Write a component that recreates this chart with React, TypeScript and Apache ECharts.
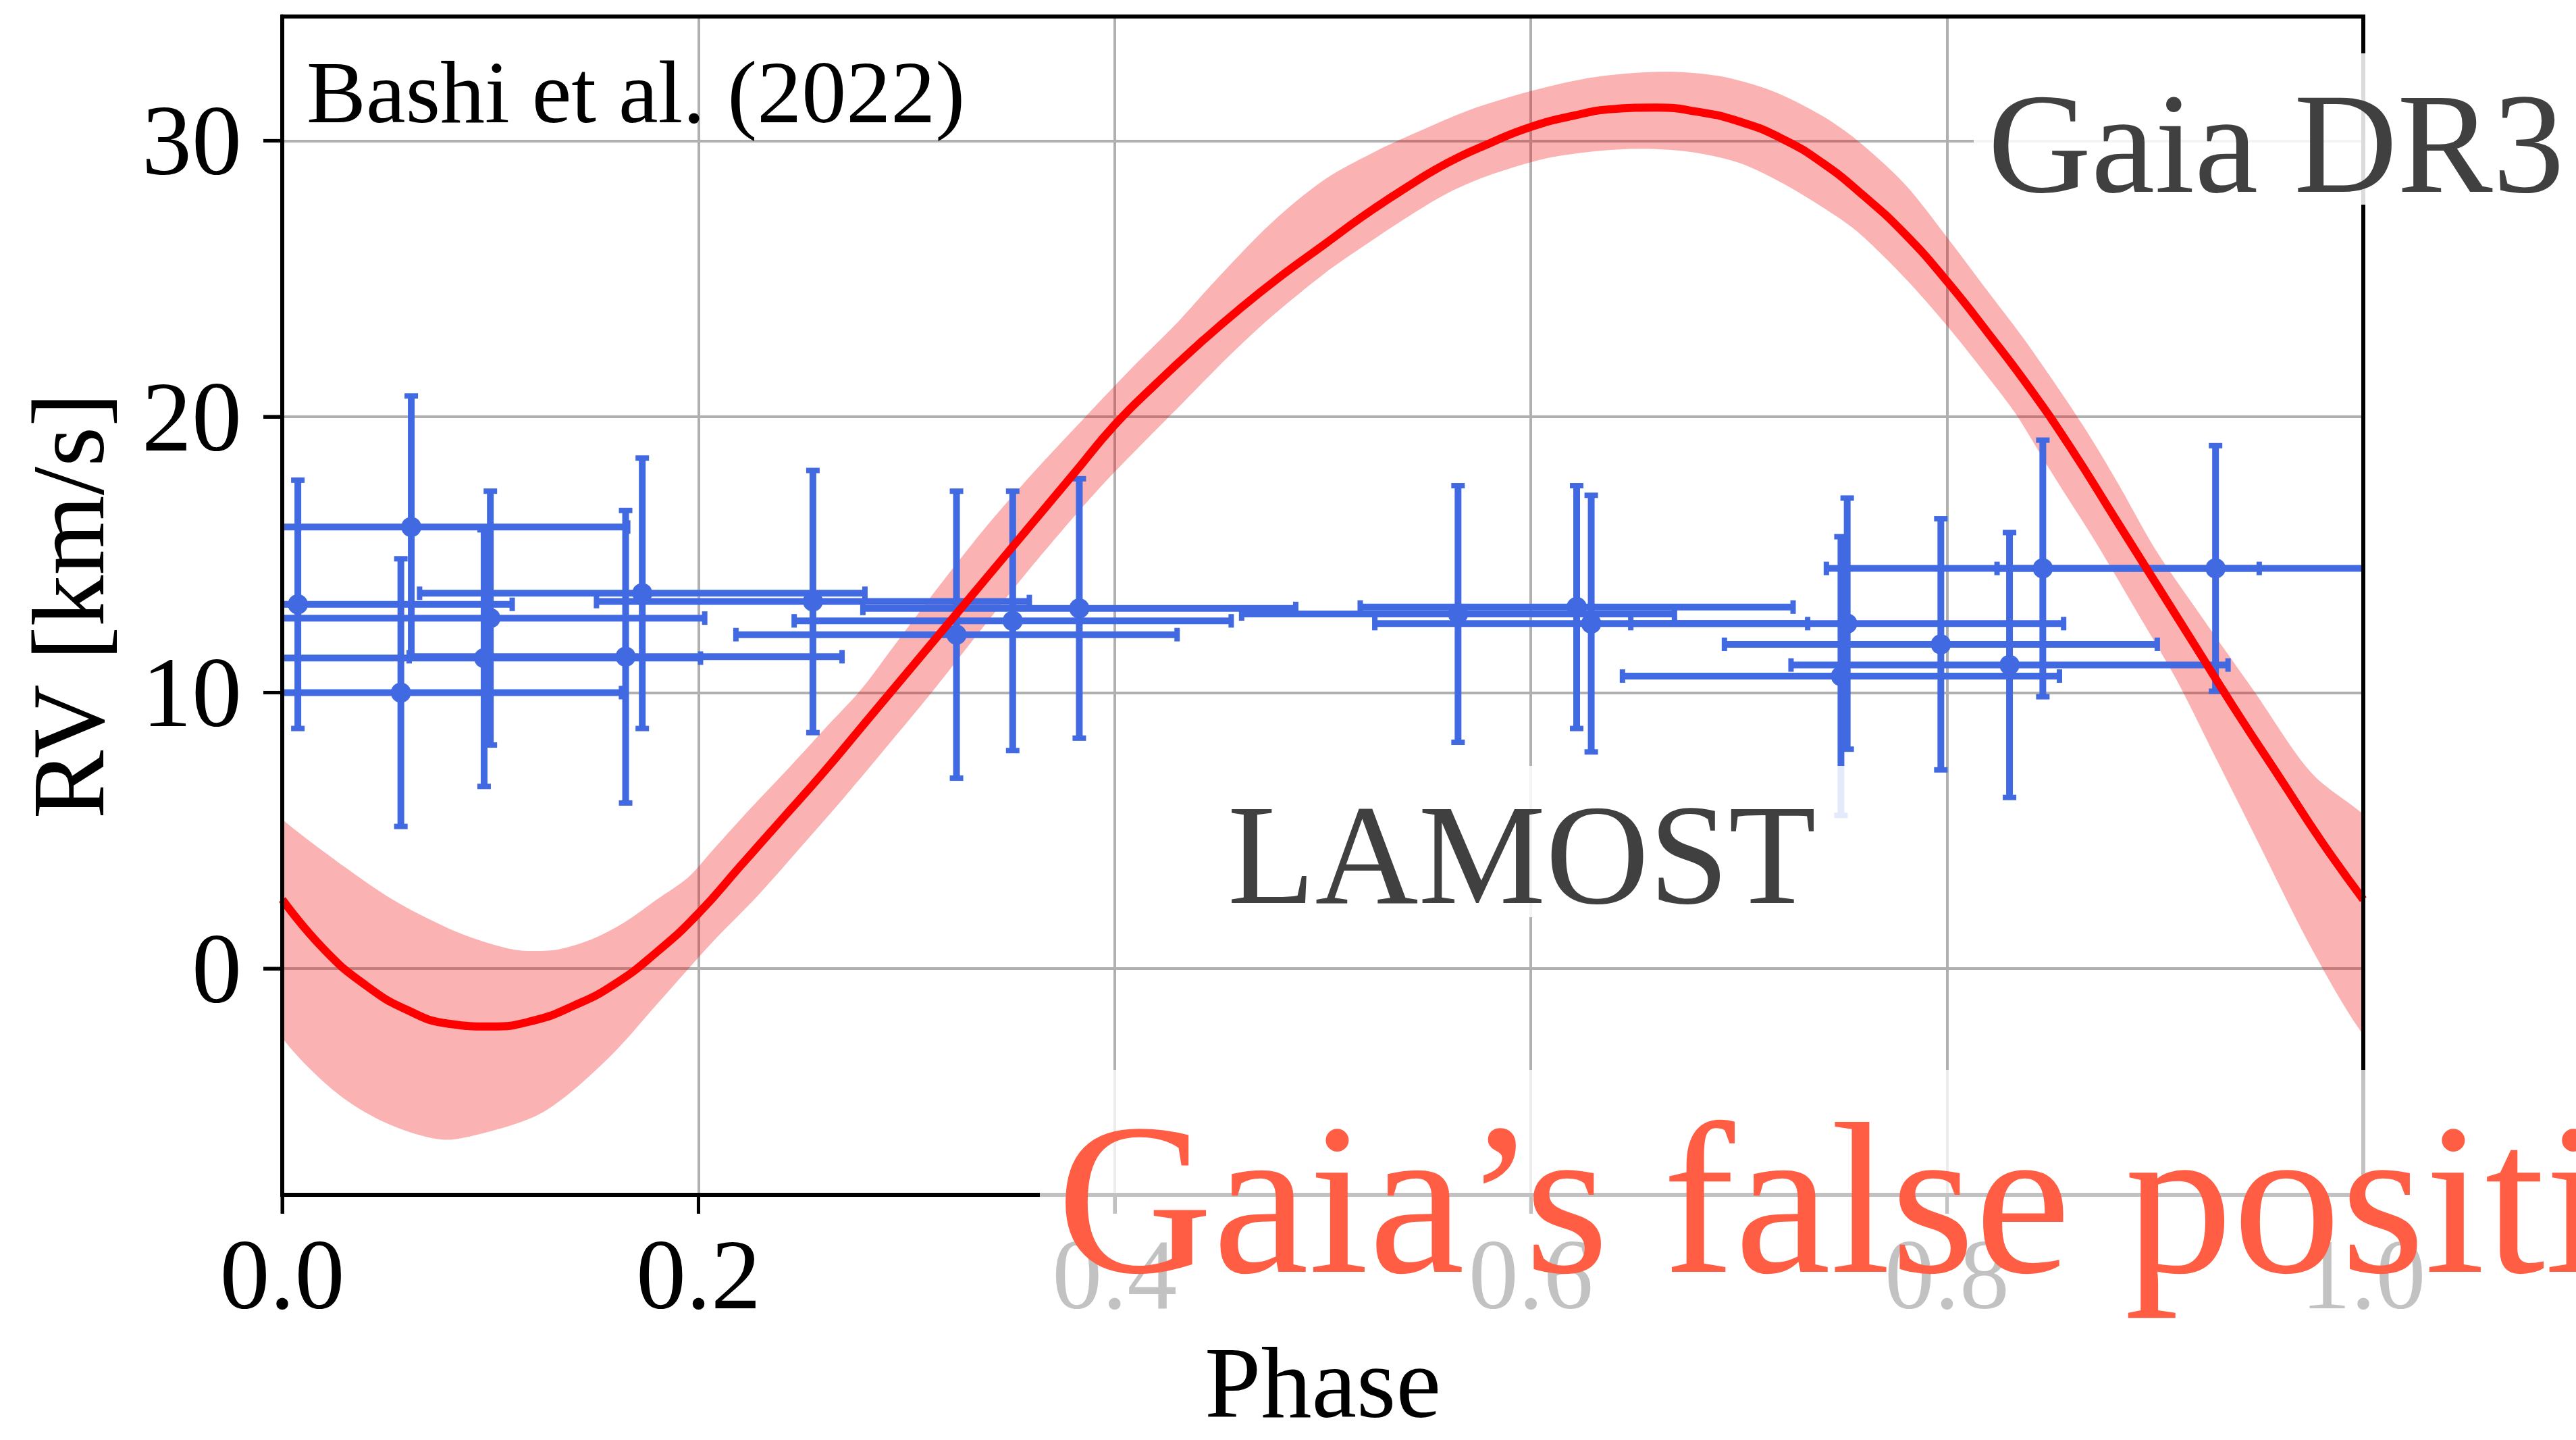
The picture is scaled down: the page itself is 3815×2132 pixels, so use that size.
import React, { useEffect, useRef } from 'react';
import * as echarts from 'echarts';

// Orbit solution (Gaia DR3) – radial-velocity curve
const curvePhase = [0, 0.02, 0.04, 0.06, 0.08, 0.1, 0.12, 0.14, 0.16, 0.18, 0.2, 0.22, 0.24, 0.26, 0.28, 0.3, 0.32, 0.34, 0.36, 0.38, 0.4, 0.42, 0.44, 0.46, 0.48, 0.5, 0.52, 0.54, 0.56, 0.58, 0.6, 0.62, 0.64, 0.66, 0.68, 0.7, 0.72, 0.74, 0.76, 0.78, 0.8, 0.82, 0.84, 0.86, 0.88, 0.9, 0.92, 0.94, 0.96, 0.98, 1.0];
const curveRV = [2.5, 0.7, -0.6, -1.5, -2.0, -2.1, -1.9, -1.35, -0.55, 0.6, 2.0, 3.7, 5.4, 7.1, 8.9, 10.7, 12.5, 14.3, 16.1, 17.9, 19.7, 21.2, 22.6, 23.9, 25.1, 26.2, 27.3, 28.3, 29.2, 29.9, 30.5, 30.9, 31.15, 31.2, 31.05, 30.7, 30.1, 29.2, 28.0, 26.6, 24.9, 23.0, 21.0, 18.8, 16.4, 14.0, 11.6, 9.2, 6.9, 4.6, 2.5];

// Uncertainty band – upper edge (phase is periodic, so it is read a little past both ends)
const upperPhase = [-0.025, 0, 0.026, 0.053, 0.08, 0.1, 0.115, 0.133, 0.15, 0.165, 0.18, 0.195, 0.207, 0.225, 0.245, 0.262, 0.278, 0.295, 0.315, 0.337, 0.36, 0.386, 0.41, 0.43, 0.448, 0.475, 0.501, 0.525, 0.545, 0.57, 0.6, 0.63, 0.663, 0.69, 0.716, 0.74, 0.757, 0.78, 0.801, 0.82, 0.839, 0.866, 0.882, 0.9, 0.92, 0.948, 0.975, 1.0, 1.026];
const upperRV = [7.1, 5.4, 3.9, 2.5, 1.45, 0.9, 0.65, 0.7, 1.1, 1.7, 2.5, 3.3, 4.3, 5.8, 7.4, 8.8, 10.1, 11.8, 13.8, 15.9, 17.9, 20.0, 21.9, 23.4, 24.9, 27.0, 28.6, 29.6, 30.3, 31.1, 31.8, 32.3, 32.5, 32.35, 31.8, 30.9, 30.0, 28.4, 26.4, 24.5, 22.6, 19.6, 17.6, 15.2, 13.0, 10.0, 7.1, 5.6, 3.9];

// Uncertainty band – lower edge
const lowerPhase = [-0.025, 0, 0.026, 0.05, 0.077, 0.1, 0.123, 0.14, 0.16, 0.18, 0.206, 0.228, 0.248, 0.27, 0.29, 0.312, 0.335, 0.355, 0.375, 0.395, 0.413, 0.434, 0.455, 0.475, 0.501, 0.52, 0.54, 0.56, 0.582, 0.61, 0.647, 0.676, 0.7, 0.72, 0.74, 0.757, 0.78, 0.801, 0.82, 0.833, 0.85, 0.871, 0.893, 0.91, 0.93, 0.948, 0.975, 1.0, 1.026];
const lowerRV = [0.75, -2.5, -4.5, -5.6, -6.2, -5.9, -5.3, -4.4, -3.0, -1.3, 0.9, 2.6, 4.3, 6.2, 8.0, 10.0, 12.2, 14.1, 15.9, 17.6, 19.0, 20.6, 22.2, 23.6, 25.2, 26.2, 27.2, 28.1, 28.8, 29.4, 29.7, 29.6, 29.2, 28.5, 27.6, 26.7, 25.0, 23.2, 21.4, 20.1, 18.0, 15.5, 12.7, 10.5, 7.5, 4.8, 0.75, -2.4, -4.5];

// LAMOST measurements
const lamostPhase = [0.0075, 0.062, 0.057, 0.1, 0.097, 0.165, 0.173, 0.255, 0.324, 0.351, 0.383, 0.565, 0.622, 0.629, 0.749, 0.752, 0.797, 0.83, 0.846, 0.929];
const lamostRV = [13.2, 16.0, 10.0, 12.7, 11.25, 11.3, 13.6, 13.3, 12.1, 12.6, 13.05, 12.85, 13.1, 12.5, 10.6, 12.5, 11.75, 11.0, 14.5, 14.5];
const lamostPhaseErr = [0.103, 0.104, 0.106, 0.103, 0.104, 0.104, 0.107, 0.104, 0.106, 0.105, 0.104, 0.104, 0.104, 0.104, 0.105, 0.104, 0.104, 0.105, 0.104, 0.105];
const lamostRVErr = [4.5, 4.75, 4.85, 4.6, 4.65, 5.3, 4.9, 4.75, 5.2, 4.7, 4.7, 4.65, 4.4, 4.65, 5.05, 4.55, 4.55, 4.8, 4.65, 4.45];

// Axis ticks
const xTicks = [0, 0.2, 0.4, 0.6, 0.8, 1.0];
const yTicks = [0, 10, 20, 30];
const X_MIN = 0;
const X_MAX = 1;
const Y_MIN = -8.2;
const Y_MAX = 34.5;

const SERIF = '"Liberation Serif", "Times New Roman", serif';
const BLUE = '#4169e1';
const TICK_LEN = 28;

export default function App() {
  const ref = useRef<HTMLDivElement>(null);

  useEffect(() => {
    const chart = echarts.init(ref.current as HTMLDivElement, null, { renderer: 'svg' });

    const curveData = curvePhase.map((p, i) => [p, curveRV[i]]);
    const lamostData = lamostPhase.map((p, i) => [p, lamostRV[i], lamostPhaseErr[i], lamostRVErr[i]]);
    const xTickData = xTicks.map((p) => [p, Y_MIN]);
    const yTickData = yTicks.map((v) => [X_MIN, v]);

    const gridLeft = 418;
    const gridTop = 24.5;
    const gridRight = 315;
    const gridBottom = 363;
    const W = 3815;
    const H = 2132;

    const axisLine = { show: true, onZero: false, lineStyle: { color: '#000', width: 6 } };
    const axisTick = { show: true, inside: false, length: TICK_LEN, lineStyle: { color: '#000', width: 5 } };

    const option: any = {
      animation: false,
      backgroundColor: '#ffffff',
      grid: {
        left: gridLeft,
        top: gridTop,
        right: gridRight,
        bottom: gridBottom,
        containLabel: false,
        outerBoundsMode: 'none',
      },
      xAxis: {
        type: 'value',
        position: 'bottom',
        min: X_MIN,
        max: X_MAX,
        interval: 0.2,
        axisLine,
        axisTick,
        axisLabel: {
          formatter: (v: number) => v.toFixed(1),
          fontFamily: SERIF,
          fontSize: 148,
          color: '#000',
          margin: 44,
          showMinLabel: true,
          showMaxLabel: true,
        },
        splitLine: { show: true, lineStyle: { color: '#b0b0b0', width: 4 } },
        name: 'Phase',
        nameLocation: 'middle',
        nameGap: 213,
        nameTextStyle: { fontFamily: SERIF, fontSize: 150, color: '#000', lineHeight: 130 },
      },
      yAxis: {
        type: 'value',
        position: 'left',
        min: Y_MIN,
        max: Y_MAX,
        axisLine,
        axisTick: { ...axisTick, customValues: yTicks },
        axisLabel: {
          customValues: yTicks,
          fontFamily: SERIF,
          fontSize: 148,
          color: '#000',
          margin: 60,
        },
        splitLine: { show: true, lineStyle: { color: '#b0b0b0', width: 4 } },
        name: 'RV [km/s]',
        nameLocation: 'middle',
        nameGap: 240,
        nameRotate: 90,
        nameTextStyle: { fontFamily: SERIF, fontSize: 152, color: '#000' },
      },
      series: [
        {
          type: 'custom',
          name: 'band',
          coordinateSystem: 'cartesian2d',
          clip: true,
          silent: true,
          z: 2,
          data: [[0.5, 10]],
          renderItem: (_params: any, api: any) => {
            const pts: number[][] = [];
            upperPhase.forEach((p, i) => pts.push(api.coord([p, upperRV[i]])));
            for (let i = lowerPhase.length - 1; i >= 0; i--) {
              pts.push(api.coord([lowerPhase[i], lowerRV[i]]));
            }
            return {
              type: 'polygon',
              shape: { points: pts, smooth: 0.3 },
              style: { fill: 'rgba(240,0,0,0.3)' },
            };
          },
        },
        {
          type: 'custom',
          name: 'LAMOST',
          coordinateSystem: 'cartesian2d',
          clip: true,
          silent: true,
          z: 3,
          encode: { x: 0, y: 1 },
          data: lamostData,
          renderItem: (_params: any, api: any) => {
            const p = api.value(0);
            const v = api.value(1);
            const xe = api.value(2);
            const ye = api.value(3);
            const c = api.coord([p, v]);
            const l = api.coord([p - xe, v]);
            const r = api.coord([p + xe, v]);
            const t = api.coord([p, v + ye]);
            const b = api.coord([p, v - ye]);
            const cap = 10;
            const st = { stroke: BLUE, lineWidth: 10 };
            const cst = { stroke: BLUE, lineWidth: 8 };
            return {
              type: 'group',
              children: [
                { type: 'line', shape: { x1: l[0], y1: l[1], x2: r[0], y2: r[1] }, style: st },
                { type: 'line', shape: { x1: t[0], y1: t[1], x2: b[0], y2: b[1] }, style: st },
                { type: 'line', shape: { x1: l[0], y1: l[1] - cap, x2: l[0], y2: l[1] + cap }, style: cst },
                { type: 'line', shape: { x1: r[0], y1: r[1] - cap, x2: r[0], y2: r[1] + cap }, style: cst },
                { type: 'line', shape: { x1: t[0] - cap, y1: t[1], x2: t[0] + cap, y2: t[1] }, style: cst },
                { type: 'line', shape: { x1: b[0] - cap, y1: b[1], x2: b[0] + cap, y2: b[1] }, style: cst },
                { type: 'circle', shape: { cx: c[0], cy: c[1], r: 15 }, style: { fill: BLUE } },
              ],
            };
          },
        },
        {
          type: 'line',
          name: 'Gaia DR3',
          data: curveData,
          smooth: true,
          showSymbol: false,
          clip: true,
          silent: true,
          z: 4,
          lineStyle: { color: '#ff0000', width: 12 },
        },
        {
          // outward tick marks on the bottom spine
          type: 'custom',
          name: 'xticks',
          coordinateSystem: 'cartesian2d',
          clip: false,
          silent: true,
          z: 5,
          encode: { x: 0, y: 1 },
          data: xTickData,
          renderItem: (_params: any, api: any) => {
            const c = api.coord([api.value(0), api.value(1)]);
            return {
              type: 'line',
              shape: { x1: c[0], y1: c[1], x2: c[0], y2: c[1] + TICK_LEN },
              style: { stroke: '#000', lineWidth: 5 },
            };
          },
        },
        {
          // outward tick marks on the left spine
          type: 'custom',
          name: 'yticks',
          coordinateSystem: 'cartesian2d',
          clip: false,
          silent: true,
          z: 5,
          encode: { x: 0, y: 1 },
          data: yTickData,
          renderItem: (_params: any, api: any) => {
            const c = api.coord([api.value(0), api.value(1)]);
            return {
              type: 'line',
              shape: { x1: c[0] - TICK_LEN, y1: c[1], x2: c[0], y2: c[1] },
              style: { stroke: '#000', lineWidth: 5 },
            };
          },
        },
      ],
      graphic: [
        {
          type: 'rect',
          silent: true,
          z: 100,
          shape: { x: gridLeft, y: gridTop, width: W - gridLeft - gridRight, height: H - gridTop - gridBottom },
          style: { fill: 'none', stroke: '#000', lineWidth: 6 },
        },
        {
          type: 'text',
          silent: true,
          z: 110,
          x: 454,
          y: 136,
          style: { text: 'Bashi et al. (2022)', fontFamily: SERIF, fontSize: 132, fill: '#000', align: 'left', verticalAlign: 'middle' },
        },
        {
          type: 'rect',
          silent: true,
          z: 120,
          shape: { x: 2923, y: 79, width: 892, height: 224 },
          style: { fill: 'rgba(255,255,255,0.86)' },
        },
        {
          type: 'text',
          silent: true,
          z: 121,
          x: 2944,
          y: 212,
          style: { text: 'Gaia DR3', fontFamily: SERIF, fontSize: 212, fill: '#404040', align: 'left', verticalAlign: 'middle' },
        },
        {
          type: 'rect',
          silent: true,
          z: 120,
          shape: { x: 1797, y: 1134, width: 950, height: 224 },
          style: { fill: 'rgba(255,255,255,0.86)' },
        },
        {
          type: 'text',
          silent: true,
          z: 121,
          x: 1818,
          y: 1265,
          style: { text: 'LAMOST', fontFamily: SERIF, fontSize: 212, fill: '#404040', align: 'left', verticalAlign: 'middle' },
        },
        {
          type: 'rect',
          silent: true,
          z: 120,
          shape: { x: 1540, y: 1584, width: W - 1540, height: 390 },
          style: { fill: 'rgba(255,255,255,0.76)' },
        },
        {
          type: 'text',
          silent: true,
          z: 121,
          x: 1565,
          y: 1775,
          style: { text: 'Gaia\u2019s false positi', fontFamily: SERIF, fontSize: 320, fill: '#ff5e45', align: 'left', verticalAlign: 'middle' },
        },
      ],
    };

    chart.setOption(option);
    return () => {
      chart.dispose();
    };
  }, []);

  return (
    <div
      ref={ref}
      style={{ position: 'fixed', left: 0, top: 0, width: 3815, height: 2132, background: '#ffffff' }}
    />
  );
}
